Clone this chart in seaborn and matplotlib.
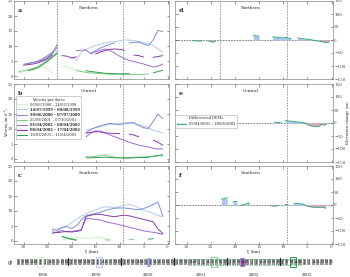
import numpy as np
import pandas as pd
import seaborn as sns
import matplotlib.pyplot as plt
from matplotlib.lines import Line2D
from matplotlib.patches import Rectangle

sns.set_theme(style="ticks")
plt.rcParams['font.family'] = ['DejaVu Serif']

N = None

# --- data -------------------------------------------------------------
KM = [31, 30, 29, 28, 27, 26, 25, 24, 23, 22, 21, 20, 19, 18, 17, 16,
      15, 14, 13, 12, 11, 10, 9, 8, 7, 6, 5, 4, 3, 2, 1]

vel_dates = ['06/06/1998 – 24/06/1998', '14/07/1999 – 08/08/1999',
             '30/06/2000 – 07/07/2000', '25/09/2001 – 07/10/2001',
             '01/04/2002 – 08/04/2002', '08/04/2002 – 17/04/2002',
             '18/03/2003 – 11/04/2003']
vel_colors = ['#d3efcb', '#b3c9ec', '#7d8fdc', '#7fcf86',
              '#9a6fd0', '#8a3aa6', '#2f9e55']
vel_bold = [False, True, True, False, True, True, False]

# Northern flowline (m/d)
n98 = [1.0, 1.3, 1.7, 2.2, 2.8, 3.3, 2.2, 0.8, N,
       3.4, 2.9, 2.4, 2.0, 1.6, 1.3, 1.1, N, N, N, N, N, N, N, N, N, N, N, N, N, N, N]
n99 = [N, N, N, N, N, 5.0, 6.0, 7.4, 8.6,
       N, N, 6.4, 5.2, 8.0, 8.8, 9.6, 10.2, 10.6, 11.0, 11.3, 11.5, 11.8, 12.0, 12.0, 11.8, 11.5, 11.2, 10.8, 10.2, 9.0, 8.0]
n00 = [N, N, 4.2, 4.5, 5.0, 5.8, 6.8, 8.0, 9.5,
       N, N, N, N, N, N, 7.5, 8.5, 9.3, 10.0, 10.6, 11.0, N, N, 11.0, 11.2, 11.3, 10.6, 10.2, 12.0, 15.2, 14.8]
n01 = [1.4, 1.8, 2.2, 2.6, 3.2, 4.2, 5.3, 6.5, 8.0,
       N, N, N, 1.8, 1.5, 1.2, 1.0, 0.9, 0.8, 0.7, 0.6, 0.6, 0.6, 0.6, 0.5, 0.5, 0.5, 0.6, 0.7, N, N, N]
n02a = [N, 3.9, 4.2, 4.5, 4.8, 5.4, 6.3, 7.5, 10.5,
        N, N, N, 8.4, 8.6, 8.7, 7.4, 8.0, 8.6, 9.0, 8.5, 7.6, 6.6, 5.8, 5.2, 4.8, 4.4, 4.0, 3.5, 3.0, 3.3, 4.0]
n02b = [N, 3.6, 3.8, 4.0, 4.4, 5.0, 5.8, 7.0, N,
        6.8, 6.6, 6.0, 6.4, N, N, N, 7.3, 8.0, 8.5, 8.9, 9.0, 8.9, 8.6, N, 7.0, 6.8, 6.3, N, 6.2, 6.5, 6.8]
n03 = [N, N, 1.8, 2.2, 2.8, 3.8, 5.0, 6.2, 7.5,
       N, N, N, N, N, 1.8, 1.5, 1.3, 1.1, 0.9, 0.8, 0.8, 0.7, 0.7, 0.8, N, N, N, N, 1.0, 1.5, 1.9]

# Central flowline
c98 = [N] * 9 + [N, N, N, N, N, N, N, N, N, 1.5, 1.7, 1.4, N, N, N, N, N, N, N, N, N, N]
c99 = [N] * 9 + [N, N, N, N, N, 9.6, 10.0, 10.4, 10.8, 11.2, 11.5, 11.8, 11.9, 12.0, 12.1, 11.8, 11.4, 10.9, 10.5, 9.6, 9.2, 8.7]
c00 = [N] * 9 + [N, N, N, N, N, 8.8, 9.8, 10.5, 11.0, 11.5, 11.9, 11.6, 11.5, 11.8, 12.0, 12.1, 11.2, 10.4, 10.2, 12.5, 15.0, 13.4]
c01 = [N] * 9 + [N, N, N, N, N, 0.8, 0.7, 0.9, 1.1, 1.3, 0.9, 0.6, 0.5, 0.5, 0.5, 0.6, 0.6, 0.7, 0.8, 0.9, 1.0, 1.1]
c02a = [N] * 9 + [N, N, N, N, N, 7.4, 8.6, 9.4, 9.3, 8.7, 8.0, 7.4, 6.8, 6.2, 5.6, 5.1, 4.6, 4.3, 4.0, 3.6, 3.3, 3.4]
c02b = [N] * 9 + [N, N, N, N, N, 8.6, 8.9, 9.1, 9.0, 8.7, 8.6, 8.5, 8.5, N, 8.3, 8.0, 7.4, N, N, 6.3, 5.6, 4.6]
c03 = [N] * 9 + [N, N, N, N, N, 0.4, 0.4, 0.5, 0.5, 0.6, 0.5, 0.4, 0.4, 0.3, 0.3, 0.4, 0.5, 0.5, 0.6, 0.9, 1.2, 1.4]

# Southern flowline
s98 = [N] * 9 + [0.4, 0.6, 1.0, 1.2, 1.0, 0.8, 0.9, 1.3, 1.1, 0.8, 0.7, N, N, N, N, N, N, N, N, N, N, N]
s99 = [N] * 7 + [3.6, 4.0] + [4.4, 5.0, 6.0, 7.3, 8.3, 9.0, 9.8, 10.4, 11.0, 11.4, 11.3, 11.1, 11.5, 11.9, 12.2, 11.8, 11.0, 10.3, 9.8, 9.2, 8.5, 8.1]
s00 = [N] * 7 + [4.0, 3.5] + [4.5, 4.8, 4.2, 5.0, 7.0, 8.4, 8.8, 9.2, 9.6, 10.2, 10.6, 10.9, 11.0, 11.0, 10.8, 10.6, 10.4, 10.8, 11.4, 12.2, 13.0, 8.3]
s01 = [N] * 9 + [1.5, 1.2, 0.8, 0.4, N, N, N, N, N, 0.4, 0.3, N, N, N, 0.5, 0.4, N, N, N, N, N, N]
s02a = [N] * 7 + [2.5, 3.0] + [3.5, 3.0, 3.2, 3.4, 3.8, 7.5, 7.4, 7.2, 7.0, 6.5, 6.1, 5.8, 5.4, 5.0, 4.6, 4.2, 3.8, 3.4, 3.1, 2.9, 2.6, 2.2]
s02b = [N] * 7 + [3.0, 2.8] + [3.0, 3.2, 3.0, 3.2, 3.5, 8.2, 8.6, 8.9, 8.9, 8.6, 8.3, 8.1, 8.4, 8.6, 8.4, 8.0, 7.6, 7.2, 6.8, 6.4, 4.0, 2.5]
s03 = [N] * 9 + [1.4, 1.0, 0.5, 0.3] + [N] * 14 + [0.6, 0.8, N, N]

velocities = {
    'Northern': [n98, n99, n00, n01, n02a, n02b, n03],
    'Central': [c98, c99, c00, c01, c02a, c02b, c03],
    'Southern': [s98, s99, s00, s01, s02a, s02b, s03],
}

# Differenced DEMs (m)
dem_date = '05/04/2001 – 20/05/2003'
dem_north_km = [28.8, 28.0, 27.0, 26.8, N, 25.6, 25.0, 24.5, 24.1, N, 16.2, 15.6, 15.0, N,
                12.2, 11.0, 10.0, 9.5, 9.0, 8.4, N, 7.0, 6.0, 5.0, 4.0, 3.0, 2.0, 1.2, 0.5]
dem_north = [-2, -3, -4, -2, N, -4, -6, -8, -5, N, 18, 16, 15, N,
             12, 10, 8, 10, 7, 6, N, 8, 5, 3, 0, -3, -6, -10, -8]
dem_central_km = [11.8, 11.0, 10.5, N, 9.6, 9.0, 8.0, 7.0, 6.0, 5.5, 5.0, 4.0, 3.0, 2.4, 2.0, 1.5, 1.0]
dem_central = [3, 2, 1, N, 10, 8, 6, 4, 2, 0, -6, -12, -14, -10, -5, -8, -3]
dem_south_km = [22.8, 22.2, 21.6, N, 20.4, 19.6, N, 18.6, 18.0, 17.4, 17.0, N, 12.7, 12.0, 11.2, N,
                9.6, 9.0, N, 7.8, 7.0, 6.0, 5.5, 5.0, 4.0, 3.0, 2.0, 1.2]
dem_south = [22, 25, 28, N, 12, 14, N, 0, 2, 6, 8, N, -2, -4, -3, N,
             2, 1, N, 5, 6, 4, 0, -5, -8, -9, -8, -12]
dems = {'Northern': (dem_north_km, dem_north),
        'Central': (dem_central_km, dem_central),
        'Southern': (dem_south_km, dem_south)}

month_letters = ['J', 'F', 'M', 'A', 'M', 'J', 'J', 'A', 'S', 'O', 'N', 'D']
years = [1998, 1999, 2000, 2001, 2002, 2003]


def segments(xs, ys):
    """split (x, y) lists at None into contiguous runs"""
    out, cur = [], []
    for x, y in zip(xs, ys):
        if x is None or y is None:
            if cur:
                out.append(cur)
            cur = []
        else:
            cur.append((x, y))
    if cur:
        out.append(cur)
    return out


def month_pos(d):
    t = pd.to_datetime(d, dayfirst=True)
    return (t.year - years[0]) * 12 + t.month - 1 + (t.day - 1) / t.days_in_month


# --- figure -----------------------------------------------------------
W, H = 350, 277
fig = plt.figure(figsize=(W / 100, H / 100), dpi=100)

def px_axes(x0, y0, x1, y1):
    return fig.add_axes([x0 / W, 1 - y1 / H, (x1 - x0) / W, (y1 - y0) / H])

rows = [(1, 79), (84, 162), (166, 244)]
names = ['Northern', 'Central', 'Southern']
fs = 3.0
grey = '#7a7a7a'

left_axes, right_axes = [], []
for i, (name, (t, b)) in enumerate(zip(names, rows)):
    axv = px_axes(14, t, 169, b)
    axd = px_axes(175, t, 333, b)
    left_axes.append(axv)
    right_axes.append(axd)

    # velocity lines
    recs = []
    seg_id = 0
    for date, ys in zip(vel_dates, velocities[name]):
        for seg in segments(KM, ys):
            for x, y in seg:
                recs.append({'km': x, 'vel': y, 'date': date, 'seg': seg_id})
            seg_id += 1
    df = pd.DataFrame(recs)
    sns.lineplot(data=df, x='km', y='vel', hue='date', units='seg', estimator=None,
                 hue_order=vel_dates, palette=vel_colors, sort=False, legend=False,
                 lw=0.7, ax=axv)

    # DEM differences
    xs, ys = dems[name]
    for seg in segments(xs, ys):
        sx = np.array([p[0] for p in seg], float)
        sy = np.array([p[1] for p in seg], float)
        axd.fill_between(sx, 0, sy, where=sy >= 0, interpolate=True,
                         color='#a9c6f2', lw=0)
        axd.fill_between(sx, 0, sy, where=sy <= 0, interpolate=True,
                         color='#f2a5cc', lw=0)
        sns.lineplot(x=sx, y=sy, sort=False, color='#35b07a', lw=0.7, ax=axd)
    axd.axhline(0, color='#555555', lw=0.5, ls=(0, (2.5, 1.5)), zorder=0)

    for ax, letter in ((axv, 'abc'[i]), (axd, 'def'[i])):
        ax.set_xlim(32.0, -0.3) if ax is axv else ax.set_xlim(32.4, -0.3)
        ax.set_xticks([30, 25, 20, 15, 10, 5, 0])
        ax.axvline(9.2, color=grey, lw=0.5, ls=(0, (2.5, 1.5)), zorder=0)
        if i == 0:
            ax.axvline(23, color=grey, lw=0.5, ls=(0, (2.5, 1.5)), zorder=0)
        ax.tick_params(direction='in', length=1.8, width=0.4, pad=0.8,
                       labelsize=fs, top=True, right=True, colors='#444444')
        for sp in ax.spines.values():
            sp.set_linewidth(0.5)
            sp.set_color('#888888')
        ax.set_xlabel('')
        ax.set_ylabel('')
        ax.text(0.025, 0.88, letter, transform=ax.transAxes, fontsize=4.6,
                fontweight='bold', va='center', ha='left')
        ax.text(0.48, 0.91, name, transform=ax.transAxes, fontsize=fs,
                va='center', ha='center')
        if i < 2:
            ax.tick_params(labelbottom=False)
        else:
            ax.set_xlabel('ξ (km)', fontsize=fs, labelpad=1.0)

    axv.set_ylim(-1, 25)
    axv.set_yticks([0, 5, 10, 15, 20, 25])
    axd.set_ylim(-150, 150)
    axd.set_yticks([-150, -100, -50, 0, 50, 100, 150])
    axd.tick_params(labelleft=False, labelright=True)

left_axes[1].set_ylabel('Velocity (m d⁻¹)', fontsize=2.6)
left_axes[1].yaxis.set_label_coords(-0.033, 0.5)
right_axes[1].yaxis.set_label_position('right')
right_axes[1].set_ylabel('Elevation change (m)', fontsize=2.8, labelpad=0.6)

# legends
handles = [Line2D([], [], color=c, lw=0.8) for c in vel_colors]
leg = left_axes[1].legend(handles, vel_dates, title='Velocity per dates',
                          loc='upper left', bbox_to_anchor=(0.0, 0.87),
                          fontsize=2.6, title_fontsize=2.6, frameon=True,
                          handlelength=2.6, labelspacing=0.3, borderpad=0.45,
                          handletextpad=0.8, fancybox=False, edgecolor='#999999')
leg.get_frame().set_linewidth(0.4)
for txt, b in zip(leg.get_texts(), vel_bold):
    if b:
        txt.set_fontweight('bold')

leg2 = right_axes[1].legend([Line2D([], [], color='#35b07a', lw=0.8)], [dem_date],
                            title='Differenced DEMs', loc='upper left',
                            bbox_to_anchor=(-0.01, 0.63), fontsize=2.6,
                            title_fontsize=2.6, frameon=True, handlelength=2.6,
                            borderpad=0.45, fancybox=False, edgecolor='#999999')
leg2.get_frame().set_linewidth(0.4)

# timeline panel
axg = px_axes(16, 258, 333, 266)
axg.set_xlim(0, 72)
axg.set_ylim(0, 1)
axg.axis('off')
for k, yr in enumerate(years):
    for m, lt in enumerate(month_letters):
        x = k * 12 + m
        axg.add_patch(Rectangle((x + 0.12, 0.08), 0.76, 0.84, fc='#9a9a9a', ec='none'))
        axg.text(x + 0.5, 0.5, lt, fontsize=2.6, ha='center', va='center', color='#1a1a1a')
    axg.add_patch(Rectangle((k * 12 - 0.08, 0.0), 0.16, 1.0, fc='#222222', ec='none'))
    axg.text(k * 12 + 6, -1.1, str(yr), fontsize=fs, ha='center', va='center', clip_on=False)
axg.add_patch(Rectangle((72 - 0.08, 0.0), 0.16, 1.0, fc='#222222', ec='none'))

filled = [False, False, True, False, True, True, False]
for date, col, fil in zip(vel_dates, vel_colors, filled):
    a, b = [month_pos(s.strip()) for s in date.split('–')]
    mid = (a + b) / 2
    w = max(b - a, 0.6)
    if fil:
        axg.add_patch(Rectangle((mid - w / 2, -0.05), w, 1.1, fc=col, ec=col,
                                alpha=0.75, lw=0.5, clip_on=False))
    else:
        axg.add_patch(Rectangle((mid - w / 2 - 0.3, -0.12), w + 0.6, 1.24, fc='none',
                                ec=col, lw=0.7, clip_on=False))
a, b = [month_pos(s.strip()) for s in dem_date.split('–')]
axg.add_patch(Rectangle((a, 0.12), b - a, 0.76, fc='none', ec='#35b07a', lw=0.5,
                        ls=(0, (2, 1.5)), clip_on=False))
fig.text(10 / W, 1 - 262 / H, 'g)', fontsize=3.6, ha='center', va='center')

fig.savefig('out.png', dpi=100)
